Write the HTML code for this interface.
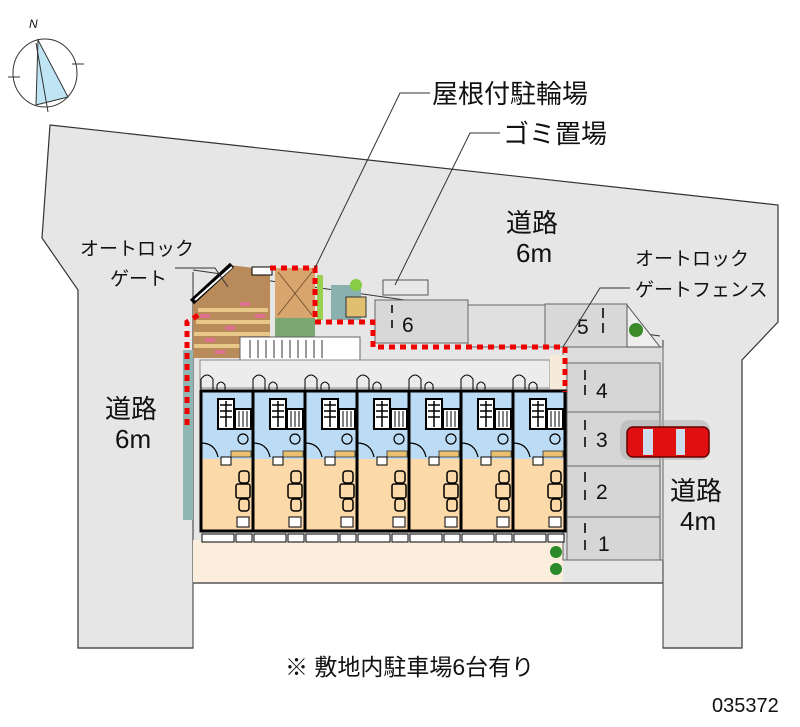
<!DOCTYPE html>
<html><head><meta charset="utf-8"><style>
html,body{margin:0;padding:0;background:#fff;width:800px;height:727px;overflow:hidden}
svg text{font-family:"Liberation Sans","Noto Sans CJK JP",sans-serif;fill:#111}
</style></head><body>
<svg width="800" height="727" viewBox="0 0 800 727" xmlns="http://www.w3.org/2000/svg">
<defs>
<g id="unit">
 <rect x="0" y="0" width="52" height="68" fill="#bcdcf5"/>
 <rect x="0" y="68" width="52" height="72" fill="#fcd9a8"/>
 <rect x="17" y="8" width="16" height="30" fill="#fff" stroke="#000" stroke-width="2"/>
 <path d="M19,14h12M19,20h12M19,26h12M25,10v26" stroke="#000" stroke-width="1.5"/>
 <rect x="34" y="18" width="16" height="20" fill="#fff" stroke="#000" stroke-width="2"/>
 <path d="M38,20v16M42,20v16M46,20v16" stroke="#000" stroke-width="1"/>
 <circle cx="42" cy="48" r="5" fill="none" stroke="#000" stroke-width="1.2"/>
 <path d="M0,52 q14,0 17,14" fill="none" stroke="#000" stroke-width="1.2"/>
 <rect x="30" y="60" width="20" height="6" fill="#e8c070" stroke="#333" stroke-width="0.8"/>
 <rect x="20" y="66" width="10" height="8" fill="#fff" stroke="#000"/>
 <rect x="38" y="80" width="10" height="12" rx="3" fill="none" stroke="#000" stroke-width="1.5"/>
 <rect x="35" y="93" width="14" height="14" rx="2" fill="none" stroke="#000" stroke-width="1.5"/>
 <rect x="38" y="108" width="10" height="12" rx="3" fill="none" stroke="#000" stroke-width="1.5"/>
 <rect x="36" y="126" width="12" height="10" fill="#fff" stroke="#000"/>
 <rect x="0" y="0" width="52" height="140" fill="none" stroke="#000" stroke-width="3"/>
 <path d="M0,0 v-12 q6,-8 12,0 v12 M16,0 v-6 q4,-6 8,0 v6" fill="none" stroke="#000" stroke-width="1"/>
 <rect x="1" y="143" width="32" height="8" fill="#fff" stroke="#000"/>
 <rect x="35" y="143" width="16" height="8" fill="#fff" stroke="#000"/>
</g>
</defs>
<!-- road polygon -->
<path d="M50,125 L778,205 L778,322 L742,360 L742,648 L78,648 L78,290 L42,238 Z" fill="#e6e6e6" stroke="#333" stroke-width="1.2"/>
<rect x="193.5" y="583" width="469" height="66" fill="#fff"/>
<path d="M193,270 L660,336 M193,272 V648 M663,340 V648" stroke="#333" stroke-width="1" fill="none"/>
<!-- site base -->
<rect x="193" y="540" width="370" height="43" fill="#fbeedd"/>
<path d="M193,583 H663" stroke="#555" stroke-width="1.5"/>
<!-- parking -->
<rect x="563" y="347" width="100" height="213" fill="#dcdcdc" stroke="#666"/>
<rect x="567" y="363" width="93" height="49" fill="#d6d6d6" stroke="#666"/>
<rect x="567" y="412" width="93" height="54" fill="#d6d6d6" stroke="#666"/>
<rect x="567" y="466" width="93" height="51" fill="#d6d6d6" stroke="#666"/>
<rect x="567" y="517" width="93" height="43" fill="#d6d6d6" stroke="#666"/>
<rect x="545" y="304" width="82" height="43" fill="#d8d8d8" stroke="#666"/>
<rect x="375" y="300" width="93" height="43" fill="#d8d8d8" stroke="#666"/>
<rect x="468" y="305" width="77" height="42" fill="#e0e0e0" stroke="#666"/>
<path d="M585,370v10M585,385v10M585,420v10M585,437v10M585,472v10M585,490v10M585,523v10M585,540v10M603,308v10M603,323v10M392,305v8M392,320v8" stroke="#333" stroke-width="2"/>
<g font-size="21"><text x="596" y="398">4</text><text x="596" y="447">3</text><text x="596" y="499">2</text><text x="598" y="551">1</text><text x="577" y="334">5</text><text x="402" y="332">6</text></g>
<polygon points="627,305 660,347 627,347" fill="#eee" stroke="#555"/>
<circle cx="636" cy="330" r="7" fill="#3a8a2a"/>
<!-- car -->
<rect x="620" y="420" width="90" height="40" rx="10" fill="#aaa" opacity="0.5"/>
<rect x="627" y="427" width="82" height="30" rx="6" fill="#e01010" stroke="#600" stroke-width="1.5"/>
<rect x="643" y="429" width="10" height="26" fill="#cde" /><rect x="676" y="429" width="9" height="26" fill="#cde"/>
<!-- brick / gate -->
<polygon points="193,300 230,265 270,270 270,358 193,358" fill="#b98a5a"/>
<path d="M198,310h70M196,322h74M194,334h76M194,346h76" stroke="#e8c888" stroke-width="4"/>
<path d="M200,316h10M225,328h10M250,340h10M215,352h10M240,304h10M205,340h10M255,316h10" stroke="#e07090" stroke-width="4"/>
<path d="M192,302 L232,265" stroke="#000" stroke-width="6"/>
<path d="M195,300 L232,267" stroke="#fff" stroke-width="2"/>
<rect x="252" y="267" width="20" height="8" fill="#fff" stroke="#000"/>
<rect x="275" y="268" width="40" height="50" fill="#d9a56f"/>
<rect x="275" y="318" width="40" height="20" fill="#7aa870"/>
<path d="M278,272 L312,315 M312,272 L278,315" stroke="#6a4a2a" stroke-width="0.8"/>
<rect x="317" y="275" width="6" height="45" fill="#9ad050"/>
<rect x="331" y="285" width="30" height="35" fill="#8ab0b0"/>
<rect x="346" y="297" width="20" height="20" fill="#e0c070" stroke="#333"/>
<circle cx="356" cy="285" r="6" fill="#88cc44"/>
<rect x="383" y="280" width="45" height="15" fill="#e8e8e8" stroke="#555"/>
<!-- steps/corridor -->
<rect x="240" y="337" width="120" height="23" fill="#fff" stroke="#666"/>
<path d="M250,340v18M258,340v18M266,340v18M274,340v18M282,340v18M290,340v18M298,340v18M306,340v18M314,340v18M322,340v18" stroke="#333"/>
<rect x="200" y="360" width="350" height="28" fill="#ececec" stroke="#888"/>
<rect x="183" y="350" width="10" height="170" fill="#8fb5b5"/>
<rect x="550" y="355" width="15" height="35" fill="#f6ead8"/>
<!-- units -->
<use href="#unit" x="201" y="391"/><use href="#unit" x="253" y="391"/><use href="#unit" x="305" y="391"/><use href="#unit" x="357" y="391"/><use href="#unit" x="409" y="391"/><use href="#unit" x="461" y="391"/><use href="#unit" x="513" y="391"/>
<circle cx="556" cy="552" r="6" fill="#2a8a2a"/><circle cx="556" cy="569" r="6" fill="#2a8a2a"/>
<!-- red boundary -->
<path d="M187,425 V322 L200,314 M270,268 H315 V322 H373 V347 H565 V392" fill="none" stroke="#e00" stroke-width="5" stroke-dasharray="6,5"/>
<!-- leaders -->
<g stroke="#333" stroke-width="1" fill="none">
<path d="M430,93 H400 L315,268"/><path d="M500,133 H470 L395,285"/><path d="M630,288 H600 L563,347"/><path d="M175,268 H215 L228,287"/>
</g>
<!-- compass -->
<g stroke="#333" fill="none">
<ellipse cx="45" cy="73" rx="32" ry="34"/><polygon points="38,40 36,105 68,97" fill="#bfe4f3"/>
<path d="M36,43 L48,112 M8,77h12M72,64h12"/>
</g>
<text x="29" y="28" font-size="12" font-style="italic" font-family="Liberation Serif">N</text>
<g font-size="26">
<text x="432" y="103">屋根付駐輪場</text><text x="503" y="143">ゴミ置場</text>
<text x="506" y="232">道路</text><text x="516" y="262">6m</text>
<text x="105" y="418">道路</text><text x="115" y="448">6m</text>
<text x="670" y="500">道路</text><text x="680" y="530">4m</text>
</g>
<g font-size="19">
<text x="80" y="255">オートロック</text><text x="110" y="285">ゲート</text>
<text x="635" y="265">オートロック</text><text x="635" y="296">ゲートフェンス</text>
</g>
<text x="285" y="675" font-size="23">※ 敷地内駐車場6台有り</text>
<text x="712" y="712" font-size="20">035372</text>
</svg>
</body></html>
